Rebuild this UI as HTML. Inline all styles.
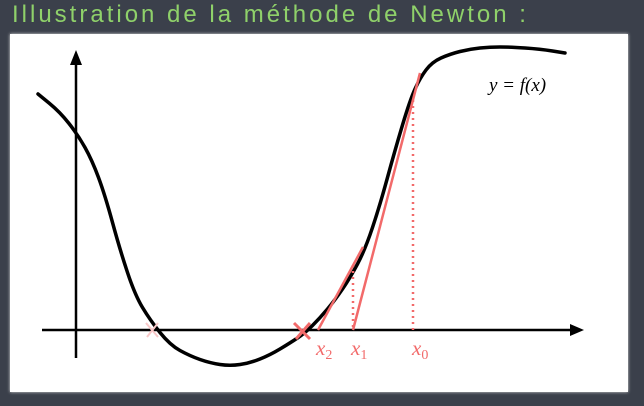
<!DOCTYPE html>
<html><head><meta charset="utf-8"><style>
html,body{margin:0;padding:0;width:644px;height:406px;overflow:hidden;background:#3b404b;}
#title{position:absolute;left:12px;top:1px;font-family:"Liberation Sans",sans-serif;font-size:24px;color:#8fd16a;letter-spacing:3px;}
#card{position:absolute;left:10px;top:34px;width:618px;height:358px;background:#fff;box-shadow:0 0 3px #ddd;}
svg{position:absolute;left:0;top:0;}
</style></head><body>
<div id="title">Illustration de la méthode de Newton :</div>
<div id="card"></div>
<svg id="chart" width="644" height="406"></svg>
<script>
const curveX=[38,60,78,92,105,120,135,150,170,190,210,230,250,270,290,305,320,335,350,365,380,395,410,420,432,450,470,490,510,540,565];
const curveY=[94,112,135,160,195,250,295,320,345,356,363,366,363,355,343,333,318,300,278,250,205,150,100,78,62,54,49,47,47,49,53];
const x0=413,x1=353,x2=318,axisY=330;
const svg=document.getElementById('chart');
const NS='http://www.w3.org/2000/svg';
function mk(t,a){const e=document.createElementNS(NS,t);for(const k in a)e.setAttribute(k,a[k]);svg.appendChild(e);return e;}
let d='M'+curveX[0]+','+curveY[0];
for(let i=1;i<curveX.length;i++){const mx=(curveX[i-1]+curveX[i])/2,my=(curveY[i-1]+curveY[i])/2;d+=' Q'+curveX[i-1]+','+curveY[i-1]+' '+mx+','+my;}
d+=' L'+curveX[curveX.length-1]+','+curveY[curveY.length-1];
let e;
e=mk('line',{x1:42,y1:axisY,x2:575,y2:axisY,stroke:'#000','stroke-width':2.5});


e=mk('polygon',{points:'584,330 570,324 570,336',fill:'#000'});


e=mk('line',{x1:76,y1:358,x2:76,y2:62,stroke:'#000','stroke-width':2.5});


e=mk('polygon',{points:'76,50 70,65 82,65',fill:'#000'});


e=mk('path',{d:d,fill:'none',stroke:'#000','stroke-width':3.5,'stroke-linecap':'round'});


const red='#f26a6a';
e=mk('line',{x1:x0,y1:100,x2:x0,y2:axisY,stroke:red,'stroke-width':2.5,'stroke-dasharray':'2 4'});


e=mk('line',{x1:x1,y1:265,x2:x1,y2:axisY,stroke:red,'stroke-width':2.5,'stroke-dasharray':'2 4'});


e=mk('line',{x1:420,y1:73,x2:x1,y2:axisY,stroke:red,'stroke-width':2.5});


e=mk('line',{x1:363,y1:247,x2:x2,y2:axisY,stroke:red,'stroke-width':2.5});


e=mk('path',{d:'M294,323 L310,339 M310,323 L296,339',stroke:red,'stroke-width':3});


e=mk('path',{d:'M146,323 L158,337 M158,323 L147,337',stroke:'#f8c8c8','stroke-width':2});


const labs=[['x','2',x2+4,'label-x2'],['x','1',x1+4,'label-x1'],['x','0',x0+5,'label-x0']];
labs.forEach(l=>{const t=mk('text',{x:l[2]-6,y:355,fill:red,'font-family':'Liberation Serif,serif','font-size':21});
const a=document.createElementNS(NS,'tspan');a.setAttribute('font-style','italic');a.textContent=l[0];t.appendChild(a);
const b=document.createElementNS(NS,'tspan');b.setAttribute('font-size','14');b.setAttribute('dy','4');b.textContent=l[1];t.appendChild(b);

});
const t=mk('text',{x:489,y:91,fill:'#000','font-family':'Liberation Serif,serif','font-style':'italic','font-size':19});
t.textContent='y = f(x)';


</script>
</body></html>
